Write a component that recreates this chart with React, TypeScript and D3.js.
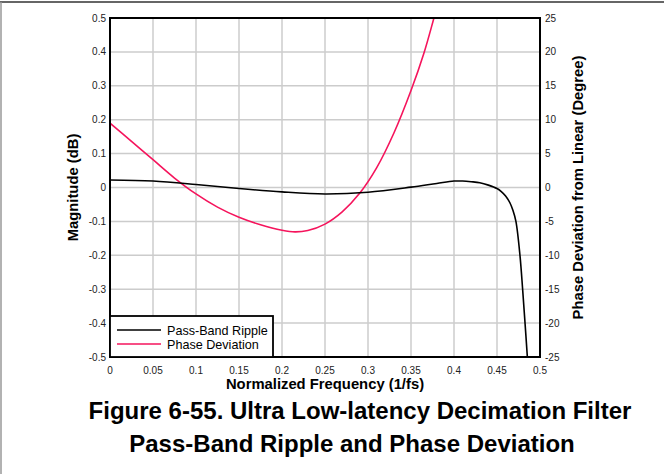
import React from 'react';
import * as d3 from 'd3';

const xTicks = [0, 0.05, 0.1, 0.15, 0.2, 0.25, 0.3, 0.35, 0.4, 0.45, 0.5];
const xTickLabels = ['0', '0.05', '0.1', '0.15', '0.2', '0.25', '0.3', '0.35', '0.4', '0.45', '0.5'];
const leftTicks = [0.5, 0.4, 0.3, 0.2, 0.1, 0, -0.1, -0.2, -0.3, -0.4, -0.5];
const leftTickLabels = ['0.5', '0.4', '0.3', '0.2', '0.1', '0', '-0.1', '-0.2', '-0.3', '-0.4', '-0.5'];
const rightTicks = [25, 20, 15, 10, 5, 0, -5, -10, -15, -20, -25];
const rightTickLabels = ['25', '20', '15', '10', '5', '0', '-5', '-10', '-15', '-20', '-25'];

const rippleFreq = [0, 0.05, 0.1, 0.15, 0.2, 0.25, 0.3, 0.35, 0.38, 0.4, 0.41, 0.42, 0.43, 0.44, 0.45, 0.455, 0.46, 0.465, 0.4686, 0.472, 0.4767, 0.4798, 0.4826, 0.4853];
const rippleDb = [0.022, 0.019, 0.009, -0.003, -0.013, -0.019, -0.014, 0.001, 0.012, 0.019, 0.019, 0.017, 0.014, 0.007, -0.003, -0.012, -0.025, -0.045, -0.068, -0.1, -0.2, -0.3, -0.4, -0.5];

const phaseFreq = [0, 0.025, 0.05, 0.075, 0.1, 0.125, 0.15, 0.175, 0.2, 0.215, 0.23, 0.25, 0.27, 0.29, 0.31, 0.33, 0.35, 0.365, 0.378, 0.39];
const phaseDeg = [9.5, 6.8, 4.1, 1.4, -0.95, -2.9, -4.4, -5.5, -6.3, -6.55, -6.35, -5.4, -3.6, -0.9, 2.9, 8.0, 14.3, 19.8, 25.6, 31];

const legendItems = ['Pass-Band Ripple', 'Phase Deviation'];
const colors = ['#000000', '#f5145c'];

export default function App() {
  const W = 664, H = 474;
  const L = 110, R = 540, T = 18, B = 357;
  const x = d3.scaleLinear().domain([0, 0.5]).range([L, R]);
  const yL = d3.scaleLinear().domain([-0.5, 0.5]).range([B, T]);
  const yR = d3.scaleLinear().domain([-25, 25]).range([B, T]);

  const rippleLine = d3.line<number>()
    .x((d, i) => x(rippleFreq[i]))
    .y((d) => yL(d))
    .curve(d3.curveCatmullRom)(rippleDb) as string;
  const phaseLine = d3.line<number>()
    .x((d, i) => x(phaseFreq[i]))
    .y((d) => yR(d))
    .curve(d3.curveCatmullRom)(phaseDeg) as string;

  const font = '"Liberation Sans", Arial, sans-serif';
  const grid = '#cccccc';

  return (
    <svg width={W} height={H} style={{ position: 'absolute', left: 0, top: 0, background: '#fff' }} fontFamily={font}>
      <rect x={0} y={0} width={W} height={H} fill="#fff" />
      <line x1={0} x2={W} y1={2} y2={2} stroke="#666" strokeWidth={2} />
      <line x1={1} x2={1} y1={2} y2={H} stroke="#999" strokeWidth={1.5} />
      <defs>
        <clipPath id="plotclip">
          <rect x={L} y={T} width={R - L} height={B - T} />
        </clipPath>
      </defs>
      {xTicks.map((t, i) => (
        <line key={'gx' + i} x1={x(t)} x2={x(t)} y1={T} y2={B} stroke={grid} strokeWidth={1.5} />
      ))}
      {leftTicks.map((t, i) => (
        <line key={'gy' + i} x1={L} x2={R} y1={yL(t)} y2={yL(t)} stroke={grid} strokeWidth={1.5} />
      ))}
      <g clipPath="url(#plotclip)">
        <path d={phaseLine} fill="none" stroke={colors[1]} strokeWidth={1.6} />
        <path d={rippleLine} fill="none" stroke={colors[0]} strokeWidth={1.6} />
      </g>
      <rect x={L} y={T} width={R - L} height={B - T} fill="none" stroke="#000" strokeWidth={2} />
      {/* legend */}
      <rect x={L} y={316} width={163} height={B - 316} fill="#fff" stroke="#000" strokeWidth={1.8} />
      {legendItems.map((s, i) => (
        <g key={'lg' + i}>
          <line x1={117} x2={161} y1={330 + i * 14} y2={330 + i * 14} stroke={colors[i]} strokeWidth={1.6} />
          <text x={167} y={334.5 + i * 14} fontSize={12.6} fill="#000">{s}</text>
        </g>
      ))}
      {leftTicks.map((t, i) => (
        <text key={'ly' + i} x={106} y={yL(t) + 3.5} fontSize={10} textAnchor="end" fill="#222">{leftTickLabels[i]}</text>
      ))}
      {rightTicks.map((t, i) => (
        <text key={'ry' + i} x={545} y={yR(t) + 3.5} fontSize={10} textAnchor="start" fill="#222">{rightTickLabels[i]}</text>
      ))}
      {xTicks.map((t, i) => (
        <text key={'lx' + i} x={x(t)} y={374} fontSize={10} textAnchor="middle" fill="#222">{xTickLabels[i]}</text>
      ))}
      <text x={(L + R) / 2} y={388.5} fontSize={14.8} fontWeight="bold" textAnchor="middle">Normalized Frequency (1/fs)</text>
      <text transform={`translate(78,${(T + B) / 2}) rotate(-90)`} fontSize={14.8} fontWeight="bold" textAnchor="middle">Magnitude (dB)</text>
      <text transform={`translate(583,${(T + B) / 2}) rotate(-90)`} fontSize={14.8} fontWeight="bold" textAnchor="middle">Phase Deviation from Linear (Degree)</text>
      <text x={360} y={419} fontSize={24} fontWeight="bold" textAnchor="middle">Figure 6-55. Ultra Low-latency Decimation Filter</text>
      <text x={352} y={452} fontSize={24} fontWeight="bold" textAnchor="middle">Pass-Band Ripple and Phase Deviation</text>
    </svg>
  );
}
